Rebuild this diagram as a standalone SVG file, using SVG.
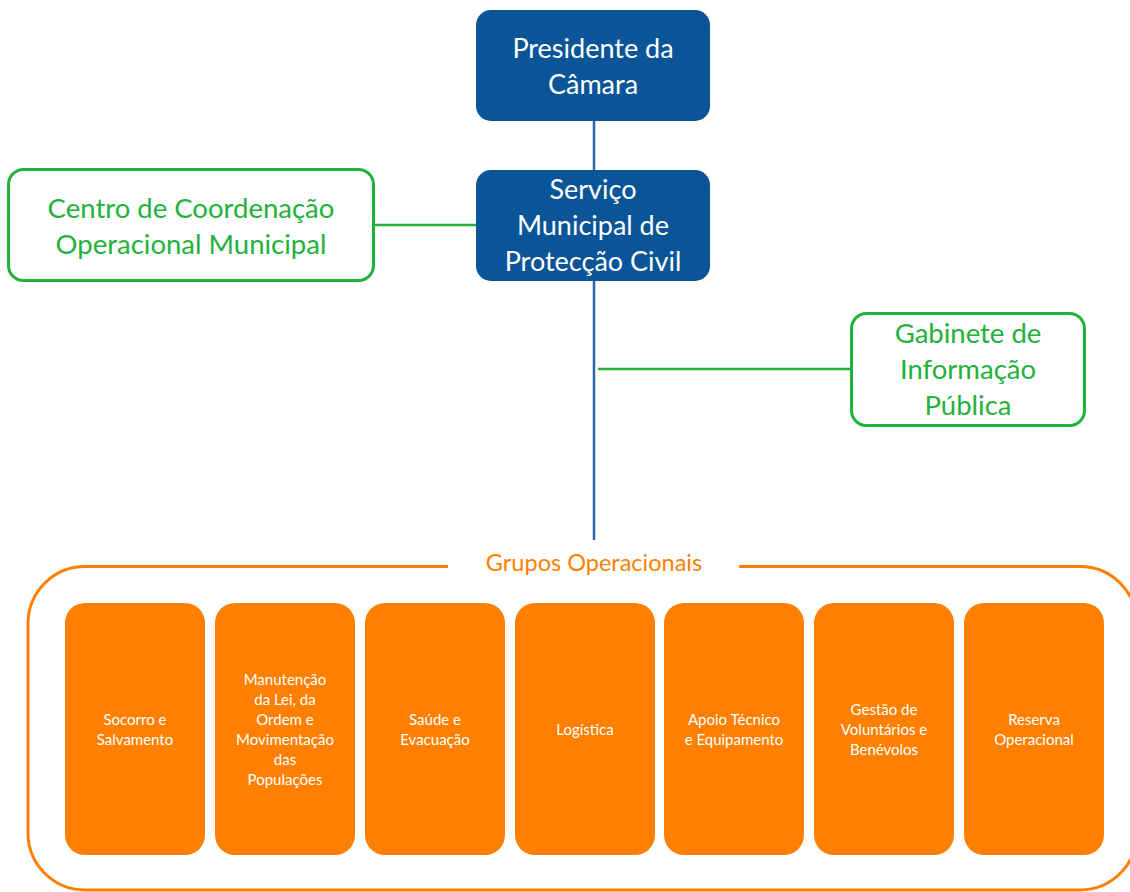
<svg xmlns="http://www.w3.org/2000/svg" width="1130" height="892" viewBox="0 0 1130 892">
<style>
.blue{fill:#0a5597;}
.bt{font-family:Lato,"Open Sans","Liberation Sans",sans-serif;font-size:27px;fill:#ffffff;text-anchor:middle;}
.green{fill:#ffffff;stroke:#22b23c;stroke-width:3;}
.gt{font-family:Lato,"Open Sans","Liberation Sans",sans-serif;font-size:27.5px;fill:#22b23c;text-anchor:middle;}
.or{fill:#ff7f00;}
.ot{font-family:Lato,"Open Sans","Liberation Sans",sans-serif;font-size:15px;fill:#ffffff;text-anchor:middle;}
.title{font-family:Lato,"Open Sans","Liberation Sans",sans-serif;font-size:23.5px;fill:#ff7f00;text-anchor:middle;}
</style>
<rect width="1130" height="892" fill="#ffffff"/>
<g id="connectors" fill="none">
<line x1="594" y1="121" x2="594" y2="170" stroke="#2a66a6" stroke-width="2.5"/>
<line x1="594" y1="281" x2="594" y2="540" stroke="#2a66a6" stroke-width="2.5"/>
<line x1="374" y1="225" x2="476" y2="225" stroke="#22b23c" stroke-width="2.5"/>
<line x1="598" y1="369" x2="851" y2="369" stroke="#22b23c" stroke-width="2.5"/>
</g>
<g id="presidente">
<rect class="blue" x="476" y="10" width="234" height="111" rx="15"/>
<text class="bt" x="593" y="58">Presidente da</text>
<text class="bt" x="593" y="94">Câmara</text>
</g>
<g id="servico">
<rect class="blue" x="476" y="170" width="234" height="111" rx="15"/>
<text class="bt" x="593" y="199">Serviço</text>
<text class="bt" x="593" y="235">Municipal de</text>
<text class="bt" x="593" y="271">Protecção Civil</text>
</g>
<g id="centro">
<rect class="green" x="8.5" y="169.5" width="365" height="111" rx="15"/>
<text class="gt" x="191" y="218">Centro de Coordenação</text>
<text class="gt" x="191" y="254">Operacional Municipal</text>
</g>
<g id="gabinete">
<rect class="green" x="851.5" y="313.5" width="233" height="112" rx="15"/>
<text class="gt" x="968" y="343">Gabinete de</text>
<text class="gt" x="968" y="379">Informação</text>
<text class="gt" x="968" y="415">Pública</text>
</g>
<g id="grupos">
<path d="M448 566.5 H85 A57 57 0 0 0 28 623.5 V833 A57 57 0 0 0 85 890 H1080 A57 57 0 0 0 1137 833 V623.5 A57 57 0 0 0 1080 566.5 H739" fill="none" stroke="#ff7f00" stroke-width="3"/>
<text class="title" x="594" y="571">Grupos Operacionais</text>
</g>
<g id="socorro">
<rect class="or" x="65" y="603" width="140" height="252" rx="20"/>
<text class="ot" x="135" y="725">Socorro e</text>
<text class="ot" x="135" y="745">Salvamento</text>
</g>
<g id="manutencao">
<rect class="or" x="215" y="603" width="140" height="252" rx="20"/>
<text class="ot" x="285" y="685">Manutenção</text>
<text class="ot" x="285" y="705">da Lei, da</text>
<text class="ot" x="285" y="725">Ordem e</text>
<text class="ot" x="285" y="745">Movimentação</text>
<text class="ot" x="285" y="765">das</text>
<text class="ot" x="285" y="785">Populações</text>
</g>
<g id="saude">
<rect class="or" x="365" y="603" width="140" height="252" rx="20"/>
<text class="ot" x="435" y="725">Saúde e</text>
<text class="ot" x="435" y="745">Evacuação</text>
</g>
<g id="logistica">
<rect class="or" x="515" y="603" width="140" height="252" rx="20"/>
<text class="ot" x="585" y="735">Logística</text>
</g>
<g id="apoio">
<rect class="or" x="664" y="603" width="140" height="252" rx="20"/>
<text class="ot" x="734" y="725">Apoio Técnico</text>
<text class="ot" x="734" y="745">e Equipamento</text>
</g>
<g id="gestao">
<rect class="or" x="814" y="603" width="140" height="252" rx="20"/>
<text class="ot" x="884" y="715">Gestão de</text>
<text class="ot" x="884" y="735">Voluntários e</text>
<text class="ot" x="884" y="755">Benévolos</text>
</g>
<g id="reserva">
<rect class="or" x="964" y="603" width="140" height="252" rx="20"/>
<text class="ot" x="1034" y="725">Reserva</text>
<text class="ot" x="1034" y="745">Operacional</text>
</g>
</svg>
